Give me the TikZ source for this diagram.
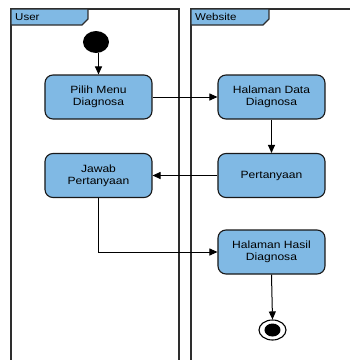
\documentclass[tikz,border=0pt]{standalone}
\usepackage{fontspec}
\setmainfont{Liberation Sans}[FakeStretch=1.15]
\usetikzlibrary{arrows.meta,positioning,shapes.geometric}
\definecolor{actfill}{HTML}{80B9E4}
\definecolor{laneline}{HTML}{2E2E2E}
\begin{document}
\begin{tikzpicture}[x=1pt,y=-1pt,
  activity/.style={draw=black!90,line width=1.1pt,fill=actfill,rounded corners=8pt,
    minimum width=107pt,minimum height=44pt,align=center,
    font=\fontsize{10.5}{12}\selectfont,inner sep=2pt},
  flow/.style={draw=black,line width=1pt,-{Triangle[length=8pt,width=7pt]}},
  lane/.style={draw=laneline,line width=1.3pt},
  tab/.style={draw=laneline,line width=1.1pt,fill=actfill},
  tablabel/.style={anchor=base west,font=\fontsize{10}{12}\selectfont,inner sep=0pt}]
\useasboundingbox (0,0) rectangle (350,360);
\fill[white] (0,0) rectangle (350,360);

% swimlane frames
\draw[lane] (11,362) -- (11,9) -- (179,9) -- (179,362);
\draw[lane] (191,362) -- (191,9) -- (352,9);

% lane header tabs
\draw[tab] (11,9) -- (88,9) -- (88,19) -- (82,25) -- (11,25) -- cycle;
\node[tablabel] (userlbl) at (15,20.5) {User};
\draw[tab] (191,9) -- (269,9) -- (269,19) -- (263,25) -- (191,25) -- cycle;
\node[tablabel] (weblbl) at (195,20.5) {Website};

% initial and final states
\node[ellipse,fill=black,minimum width=26pt,minimum height=22pt,inner sep=0pt] (start) at (96,42) {};
\node[ellipse,draw=black,line width=1.1pt,fill=white,minimum width=27pt,minimum height=20pt,inner sep=0pt] (final) at (272.5,330) {};
\node[ellipse,fill=black,minimum width=16pt,minimum height=13pt,inner sep=0pt] (finaldot) at (final.center) {};

% activities
\node[activity] (pilih) at (98.5,97) {Pilih Menu\\Diagnosa};
\node[activity] (data) at (271.5,97) {Halaman Data\\Diagnosa};
\node[activity] (jawab) at (98.5,175.5) {Jawab\\Pertanyaan};
\node[activity] (tanya) at (271.5,175.5) {Pertanyaan};
\node[activity] (hasil) at (271.5,252) {Halaman Hasil\\Diagnosa};

% control flow
\draw[flow] (start.south -| pilih.north) -- (pilih.north);
\draw[flow] (pilih.east) -- (data.west);
\draw[flow] (data.south) -- (tanya.north);
\draw[flow] (tanya.west) -- (jawab.east);
\draw[flow] (jawab.south) |- (hasil.west);
\draw[flow] (hasil.south) -- (final.north);
\end{tikzpicture}
\end{document}
